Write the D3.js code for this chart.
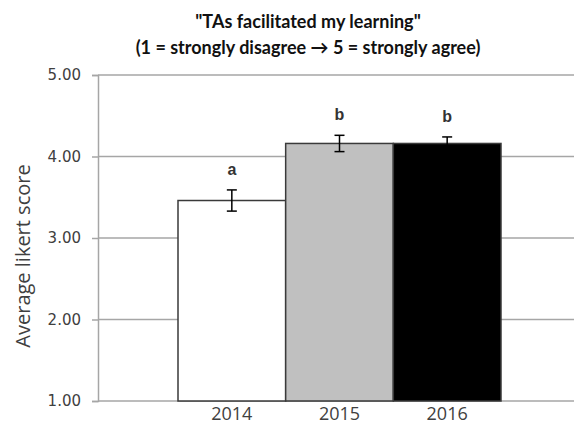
<!DOCTYPE html>
<html>
<head>
<meta charset="utf-8">
<script src="https://cdn.jsdelivr.net/npm/d3@7"></script>
<style>
  html, body { margin: 0; padding: 0; background: #fff; }
  svg { display: block; }
</style>
</head>
<body>
<svg id="chart" width="574" height="427"></svg>
<script>
// Survey item: average Likert score per year, with SE bars and significance letters
const years = ["2014", "2015", "2016"];
const means = [3.46, 4.16, 4.16];
const errors = [0.13, 0.10, 0.08];
const groupLetters = ["a", "b", "b"];
const barFills = ["#ffffff", "#c0c0c0", "#000000"];
const yTicks = [1, 2, 3, 4, 5];
const titleLines = ["\"TAs facilitated my learning\"", "(1 = strongly disagree \u2192 5 = strongly agree)"];

const svg = d3.select("#chart");
const plot = { left: 98, right: 581, top: 75, bottom: 401 };

const y = d3.scaleLinear().domain([1, 5]).range([plot.bottom, plot.top]);
const x = d3.scaleBand().domain(years).range([178, 501]).paddingInner(0).paddingOuter(0);

const axisColor = "#a6a6a6";
const textColor = "#404040";

// Horizontal gridlines
svg.append("g")
  .selectAll("line")
  .data(yTicks)
  .join("line")
  .attr("x1", plot.left).attr("x2", plot.right)
  .attr("y1", d => y(d)).attr("y2", d => y(d))
  .attr("stroke", axisColor).attr("stroke-width", 1.5);

// Left value axis
const yAxis = d3.axisLeft(y)
  .tickValues(yTicks)
  .tickFormat(d3.format(".2f"))
  .tickSize(6)
  .tickPadding(11);
const gy = svg.append("g").attr("transform", `translate(${plot.left},0)`).call(yAxis);
gy.select(".domain").attr("stroke", axisColor).attr("stroke-width", 1.5);
gy.selectAll(".tick line").attr("stroke", axisColor).attr("stroke-width", 1.5);
gy.selectAll(".tick text")
  .attr("fill", textColor)
  .style("font-family", "'DejaVu Sans', Verdana, sans-serif")
  .style("font-size", "15px");

// Bars
svg.append("g")
  .selectAll("rect")
  .data(years)
  .join("rect")
  .attr("x", d => x(d))
  .attr("width", x.bandwidth())
  .attr("y", (d, i) => y(means[i]))
  .attr("height", (d, i) => y(1) - y(means[i]))
  .attr("fill", (d, i) => barFills[i])
  .attr("stroke", "#3a3a3a")
  .attr("stroke-width", 1.5);

// Error bars
const cap = 5;
const eb = svg.append("g").attr("stroke", "#000").attr("stroke-width", 1.5);
years.forEach((yr, i) => {
  const cx = x(yr) + x.bandwidth() / 2;
  const hi = y(means[i] + errors[i]);
  const lo = y(means[i] - errors[i]);
  eb.append("line").attr("x1", cx).attr("x2", cx).attr("y1", hi).attr("y2", lo);
  eb.append("line").attr("x1", cx - cap).attr("x2", cx + cap).attr("y1", hi).attr("y2", hi);
  eb.append("line").attr("x1", cx - cap).attr("x2", cx + cap).attr("y1", lo).attr("y2", lo);
});

// Significance letters
svg.append("g")
  .selectAll("text")
  .data(years)
  .join("text")
  .attr("x", d => x(d) + x.bandwidth() / 2)
  .attr("y", (d, i) => y(means[i] + errors[i]) - 15)
  .attr("text-anchor", "middle")
  .attr("fill", "#333")
  .style("font-family", "'Liberation Sans', Arial, sans-serif")
  .style("font-weight", "bold")
  .style("font-size", "16px")
  .text((d, i) => groupLetters[i]);

// Category labels
svg.append("g")
  .selectAll("text")
  .data(years)
  .join("text")
  .attr("x", d => x(d) + x.bandwidth() / 2)
  .attr("y", 420)
  .attr("text-anchor", "middle")
  .attr("fill", textColor)
  .style("font-family", "'Open Sans', 'DejaVu Sans', sans-serif")
  .style("font-size", "18px")
  .text(d => d);

// Axis title
svg.append("text")
  .attr("transform", `translate(30,${(plot.top + plot.bottom) / 2 + 18}) rotate(-90)`)
  .attr("text-anchor", "middle")
  .attr("fill", textColor)
  .style("font-family", "'Open Sans', 'DejaVu Sans', sans-serif")
  .style("font-size", "20px")
  .text("Average likert score");

// Chart title
svg.append("g")
  .selectAll("text")
  .data(titleLines)
  .join("text")
  .attr("x", 308)
  .attr("y", (d, i) => 28 + i * 26)
  .attr("text-anchor", "middle")
  .attr("fill", "#111")
  .style("font-family", "Lato, 'Open Sans', sans-serif")
  .style("font-weight", "bold")
  .style("font-size", "18px")
  .text(d => d);
</script>
</body>
</html>
